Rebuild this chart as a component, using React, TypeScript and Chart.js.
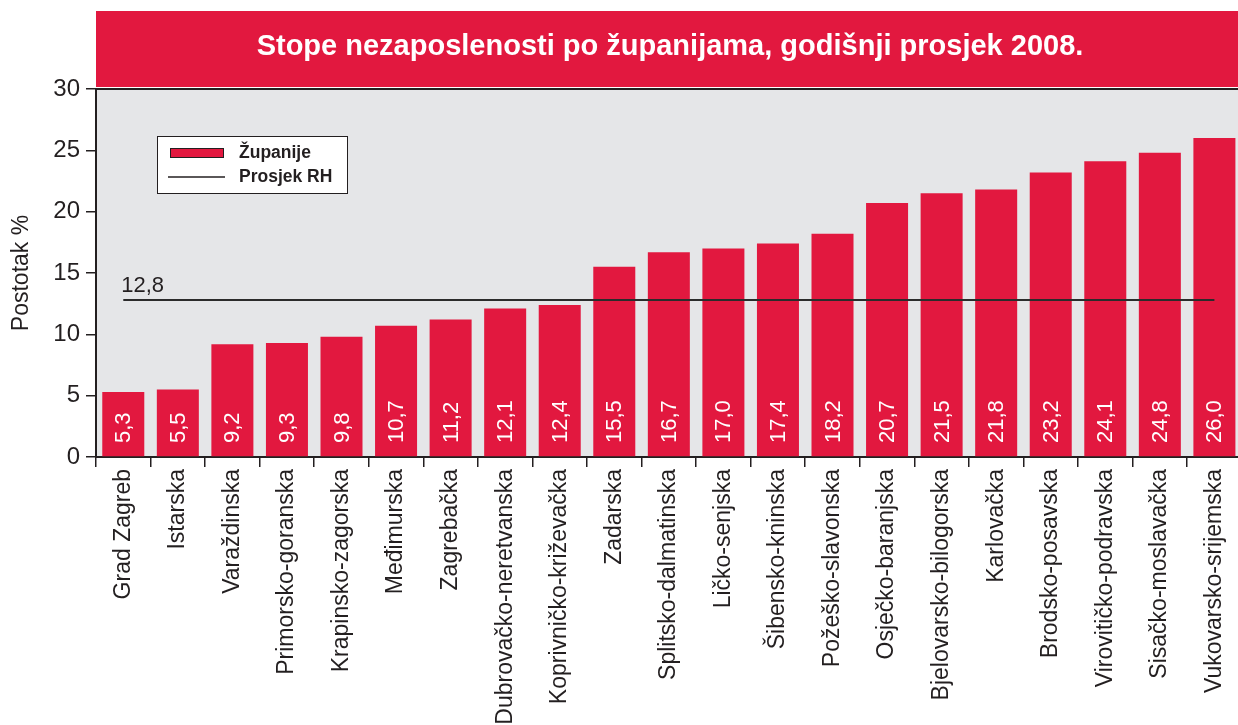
import React, { useEffect, useRef } from "react";
import { Chart, registerables } from "chart.js";

Chart.register(...registerables);

const titleText = "Stope nezaposlenosti po županijama, godišnji prosjek 2008.";
const categories = [
  "Grad Zagreb", "Istarska", "Varaždinska", "Primorsko-goranska", "Krapinsko-zagorska",
  "Međimurska", "Zagrebačka", "Dubrovačko-neretvanska", "Koprivničko-križevačka", "Zadarska",
  "Splitsko-dalmatinska", "Ličko-senjska", "Šibensko-kninska", "Požeško-slavonska", "Osječko-baranjska",
  "Bjelovarsko-bilogorska", "Karlovačka", "Brodsko-posavska", "Virovitičko-podravska", "Sisačko-moslavačka",
  "Vukovarsko-srijemska",
];
const values = [5.3, 5.5, 9.2, 9.3, 9.8, 10.7, 11.2, 12.1, 12.4, 15.5, 16.7, 17.0, 17.4, 18.2, 20.7, 21.5, 21.8, 23.2, 24.1, 24.8, 26.0];
const averageValue = 12.8;
const averageLabel = "12,8";
const seriesNames = ["Županije", "Prosjek RH"];
const yTitle = "Postotak %";

const RED = "#e2183f";
const DARK = "#231f20";
const FONT = "'Liberation Sans', Arial, sans-serif";
const W = 1238;
const CW = 1244;

const fmt = (v: number) => v.toFixed(1).replace(".", ",");

export default function App() {
  const ref = useRef<HTMLCanvasElement | null>(null);
  useEffect(() => {
    if (!ref.current) return;
    const bgPlugin = {
      id: "bgPlugin",
      beforeDraw(chart: any) {
        const { ctx, chartArea } = chart;
        ctx.save();
        ctx.fillStyle = "#ffffff";
        ctx.fillRect(0, 0, chart.width, chart.height);
        // title band
        ctx.fillStyle = RED;
        ctx.fillRect(96, 11, W - 96, 76);
        ctx.fillStyle = "#ffffff";
        ctx.font = `bold 29px ${FONT}`;
        ctx.textAlign = "center";
        ctx.textBaseline = "middle";
        ctx.fillText(titleText, (96 + W) / 2 + 3, 47);
        // plot background
        ctx.fillStyle = "#e5e6e8";
        ctx.fillRect(chartArea.left, chartArea.top, chartArea.right - chartArea.left, chartArea.bottom - chartArea.top);
        ctx.strokeStyle = DARK;
        ctx.lineWidth = 2;
        ctx.beginPath();
        ctx.moveTo(chartArea.left, chartArea.top);
        ctx.lineTo(chartArea.right, chartArea.top);
        ctx.stroke();
        ctx.restore();
      },
      afterDatasetsDraw(chart: any) {
        const { ctx } = chart;
        const meta = chart.getDatasetMeta(0);
        const yScale = chart.scales.y;
        const base = yScale.getPixelForValue(0);
        ctx.save();
        ctx.fillStyle = "#ffffff";
        ctx.font = `22px ${FONT}`;
        ctx.textBaseline = "middle";
        ctx.textAlign = "left";
        meta.data.forEach((bar: any, i: number) => {
          ctx.save();
          ctx.translate(bar.x, base - 14);
          ctx.rotate(-Math.PI / 2);
          ctx.fillText(fmt(values[i]), 0, 1);
          ctx.restore();
        });
        // average label
        const lm = chart.getDatasetMeta(1);
        const p0 = lm.data[0];
        ctx.fillStyle = DARK;
        ctx.font = `22px ${FONT}`;
        ctx.textBaseline = "alphabetic";
        ctx.fillText(averageLabel, p0.x - 2, yScale.getPixelForValue(averageValue) - 8);
        // legend
        const lx = 157, ly = 136, lw = 190, lh = 57;
        ctx.fillStyle = "#ffffff";
        ctx.fillRect(lx, ly, lw, lh);
        ctx.strokeStyle = DARK;
        ctx.lineWidth = 1;
        ctx.strokeRect(lx + 0.5, ly + 0.5, lw, lh);
        ctx.fillStyle = RED;
        ctx.fillRect(170, 148, 53, 9);
        ctx.strokeRect(170.5, 148.5, 53, 9);
        ctx.strokeStyle = DARK;
        ctx.lineWidth = 1.5;
        ctx.beginPath();
        ctx.moveTo(168, 177);
        ctx.lineTo(225, 177);
        ctx.stroke();
        ctx.fillStyle = DARK;
        ctx.font = `bold 17.5px ${FONT}`;
        ctx.textBaseline = "middle";
        ctx.fillText(seriesNames[0], 239, 153);
        ctx.fillText(seriesNames[1], 239, 177);
        ctx.restore();
      },
    };

    const chart = new Chart(ref.current, {
      type: "bar",
      data: {
        labels: categories,
        datasets: [
          {
            type: "bar",
            label: seriesNames[0],
            data: values,
            backgroundColor: RED,
            borderWidth: 0,
            barPercentage: 0.77,
            categoryPercentage: 1,
            order: 2,
          },
          {
            type: "line",
            label: seriesNames[1],
            data: categories.map(() => averageValue),
            borderColor: "#2b2b2b",
            borderWidth: 2,
            pointRadius: 0,
            order: 1,
          } as any,
        ],
      },
      options: {
        responsive: false,
        animation: false,
        layout: { padding: { top: 89, left: 0, right: 0, bottom: 0 } },
        plugins: {
          legend: { display: false },
          title: { display: false },
          tooltip: { enabled: false },
        },
        scales: {
          x: {
            offset: true,
            grid: {
              offset: true,
              drawOnChartArea: false,
              drawTicks: true,
              tickLength: 10,
              color: DARK,
              lineWidth: 1.5,
            },
            border: { display: true, color: DARK, width: 2 },
            ticks: {
              autoSkip: false,
              minRotation: 90,
              maxRotation: 90,
              color: DARK,
              font: { family: FONT, size: 23 },
              padding: 2,
            },
            afterFit(scale: any) {
              scale.height = 725 - 457;
            },
          },
          y: {
            min: 0,
            max: 30,
            ticks: {
              stepSize: 5,
              color: DARK,
              font: { family: FONT, size: 24 },
              padding: 6,
            },
            grid: {
              drawOnChartArea: false,
              drawTicks: true,
              tickLength: 10,
              color: DARK,
              lineWidth: 1.5,
            },
            border: { display: true, color: DARK, width: 2 },
            title: {
              display: true,
              text: yTitle,
              color: DARK,
              font: { family: FONT, size: 23 },
              padding: { top: 8, bottom: 0 },
            },
            afterFit(scale: any) {
              scale.width = 96;
            },
          },
        },
      },
      plugins: [bgPlugin],
    });
    return () => chart.destroy();
  }, []);

  return (
    <div style={{ position: "absolute", left: 0, top: 0, width: W, height: 725, overflow: "hidden" }}>
      <canvas ref={ref} width={CW} height={725} style={{ display: "block" }} />
    </div>
  );
}
